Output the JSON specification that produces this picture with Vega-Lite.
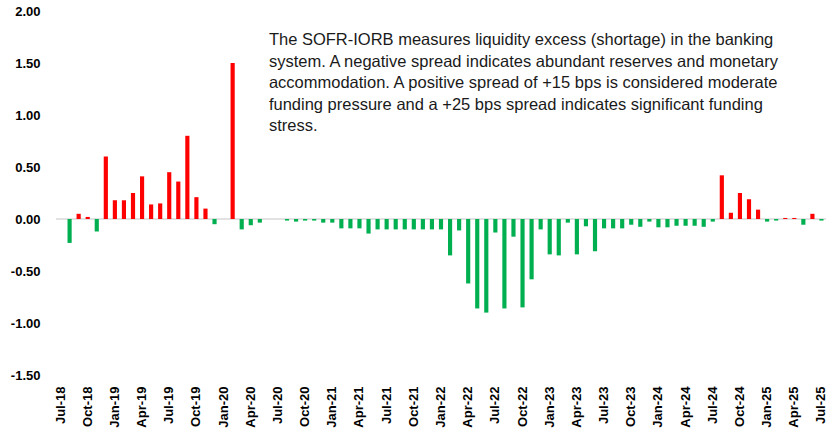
{
  "$schema": "https://vega.github.io/schema/vega-lite/v6.json",
  "autosize": "none",
  "width": 770,
  "height": 364,
  "padding": {"left": 56, "top": 11, "right": 1, "bottom": 54},
  "background": "white",
  "config": {"view": {"stroke": null}},
  "datasets": {
    "spread": [
      {"date": "2018-07-01", "spread": 0},
      {"date": "2018-08-01", "spread": -0.23},
      {"date": "2018-09-01", "spread": 0.05},
      {"date": "2018-10-01", "spread": 0.02},
      {"date": "2018-11-01", "spread": -0.12},
      {"date": "2018-12-01", "spread": 0.60},
      {"date": "2019-01-01", "spread": 0.18},
      {"date": "2019-02-01", "spread": 0.18},
      {"date": "2019-03-01", "spread": 0.25},
      {"date": "2019-04-01", "spread": 0.41},
      {"date": "2019-05-01", "spread": 0.14},
      {"date": "2019-06-01", "spread": 0.15},
      {"date": "2019-07-01", "spread": 0.45},
      {"date": "2019-08-01", "spread": 0.36},
      {"date": "2019-09-01", "spread": 0.80},
      {"date": "2019-10-01", "spread": 0.21},
      {"date": "2019-11-01", "spread": 0.10},
      {"date": "2019-12-01", "spread": -0.05},
      {"date": "2020-01-01", "spread": 0},
      {"date": "2020-02-01", "spread": 1.50},
      {"date": "2020-03-01", "spread": -0.10},
      {"date": "2020-04-01", "spread": -0.06},
      {"date": "2020-05-01", "spread": -0.035},
      {"date": "2020-06-01", "spread": 0},
      {"date": "2020-07-01", "spread": 0},
      {"date": "2020-08-01", "spread": -0.015},
      {"date": "2020-09-01", "spread": -0.025},
      {"date": "2020-10-01", "spread": -0.015},
      {"date": "2020-11-01", "spread": -0.015},
      {"date": "2020-12-01", "spread": -0.035},
      {"date": "2021-01-01", "spread": -0.035},
      {"date": "2021-02-01", "spread": -0.09},
      {"date": "2021-03-01", "spread": -0.09},
      {"date": "2021-04-01", "spread": -0.09},
      {"date": "2021-05-01", "spread": -0.14},
      {"date": "2021-06-01", "spread": -0.10},
      {"date": "2021-07-01", "spread": -0.10},
      {"date": "2021-08-01", "spread": -0.10},
      {"date": "2021-09-01", "spread": -0.10},
      {"date": "2021-10-01", "spread": -0.10},
      {"date": "2021-11-01", "spread": -0.10},
      {"date": "2021-12-01", "spread": -0.10},
      {"date": "2022-01-01", "spread": -0.10},
      {"date": "2022-02-01", "spread": -0.35},
      {"date": "2022-03-01", "spread": -0.11},
      {"date": "2022-04-01", "spread": -0.62},
      {"date": "2022-05-01", "spread": -0.86},
      {"date": "2022-06-01", "spread": -0.90},
      {"date": "2022-07-01", "spread": -0.13},
      {"date": "2022-08-01", "spread": -0.86},
      {"date": "2022-09-01", "spread": -0.17},
      {"date": "2022-10-01", "spread": -0.85},
      {"date": "2022-11-01", "spread": -0.58},
      {"date": "2022-12-01", "spread": -0.10},
      {"date": "2023-01-01", "spread": -0.34},
      {"date": "2023-02-01", "spread": -0.35},
      {"date": "2023-03-01", "spread": -0.035},
      {"date": "2023-04-01", "spread": -0.34},
      {"date": "2023-05-01", "spread": -0.07},
      {"date": "2023-06-01", "spread": -0.31},
      {"date": "2023-07-01", "spread": -0.09},
      {"date": "2023-08-01", "spread": -0.09},
      {"date": "2023-09-01", "spread": -0.09},
      {"date": "2023-10-01", "spread": -0.055},
      {"date": "2023-11-01", "spread": -0.075},
      {"date": "2023-12-01", "spread": -0.025},
      {"date": "2024-01-01", "spread": -0.08},
      {"date": "2024-02-01", "spread": -0.08},
      {"date": "2024-03-01", "spread": -0.065},
      {"date": "2024-04-01", "spread": -0.065},
      {"date": "2024-05-01", "spread": -0.065},
      {"date": "2024-06-01", "spread": -0.075},
      {"date": "2024-07-01", "spread": -0.025},
      {"date": "2024-08-01", "spread": 0.42},
      {"date": "2024-09-01", "spread": 0.06},
      {"date": "2024-10-01", "spread": 0.25},
      {"date": "2024-11-01", "spread": 0.19},
      {"date": "2024-12-01", "spread": 0.09},
      {"date": "2025-01-01", "spread": -0.025},
      {"date": "2025-02-01", "spread": -0.015},
      {"date": "2025-03-01", "spread": 0.01},
      {"date": "2025-04-01", "spread": 0.01},
      {"date": "2025-05-01", "spread": -0.055},
      {"date": "2025-06-01", "spread": 0.05},
      {"date": "2025-07-01", "spread": -0.015}
    ],
    "note": [
      {"date": "2020-06-01", "y": 1.67, "text": "The SOFR-IORB measures liquidity excess (shortage) in the banking\nsystem. A negative spread indicates abundant reserves and monetary\naccommodation. A positive spread of +15 bps is considered moderate\nfunding pressure and a +25 bps spread indicates significant funding\nstress."}
    ],
    "zero": [{"v": 0}]
  },
  "layer": [
    {
      "data": {"name": "zero"},
      "mark": {"type": "rule", "color": "#d9d9d9", "strokeWidth": 1.5},
      "encoding": {
        "y": {"field": "v", "type": "quantitative", "scale": {"domain": [-1.5, 2]}}
      }
    },
    {
      "data": {"name": "spread"},
      "mark": {"type": "bar"},
      "encoding": {
        "x": {
          "field": "date",
          "timeUnit": "utcyearmonth",
          "type": "ordinal",
          "scale": {"paddingInner": 0.54, "paddingOuter": 0.27},
          "axis": {
            "title": null,
            "domain": false,
            "ticks": false,
            "labelAngle": -90,
            "labelPadding": 11,
            "labelFont": "Liberation Sans",
            "labelFontWeight": "bold",
            "labelFontSize": 13,
            "labelColor": "#000000",
            "labelOverlap": false,
            "labelBound": false,
            "labelExpr": "utcmonth(datum.value) % 3 == 0 ? utcFormat(datum.value, '%b-%y') : ''"
          }
        },
        "y": {
          "field": "spread",
          "type": "quantitative",
          "scale": {"domain": [-1.5, 2], "nice": false, "zero": true},
          "axis": {
            "title": null,
            "grid": false,
            "domain": false,
            "ticks": false,
            "values": [-1.5, -1, -0.5, 0, 0.5, 1, 1.5, 2],
            "labelPadding": 16,
            "labelFont": "Liberation Sans",
            "labelFontWeight": "bold",
            "labelFontSize": 13,
            "labelColor": "#000000",
            "labelExpr": "replace(format(datum.value, '.2f'), '\u2212', '-')"
          }
        },
        "color": {
          "condition": {"test": "datum.spread > 0", "value": "#ff0000"},
          "value": "#00b050"
        }
      }
    },
    {
      "data": {"name": "note"},
      "mark": {
        "type": "text",
        "align": "left",
        "baseline": "alphabetic",
        "lineBreak": "\n",
        "lineHeight": 21.5,
        "font": "Liberation Sans",
        "fontSize": 16.5,
        "color": "#1a1a1a"
      },
      "encoding": {
        "x": {"field": "date", "timeUnit": "utcyearmonth", "type": "ordinal"},
        "y": {"field": "y", "type": "quantitative"},
        "text": {"field": "text", "type": "nominal"}
      }
    }
  ]
}
